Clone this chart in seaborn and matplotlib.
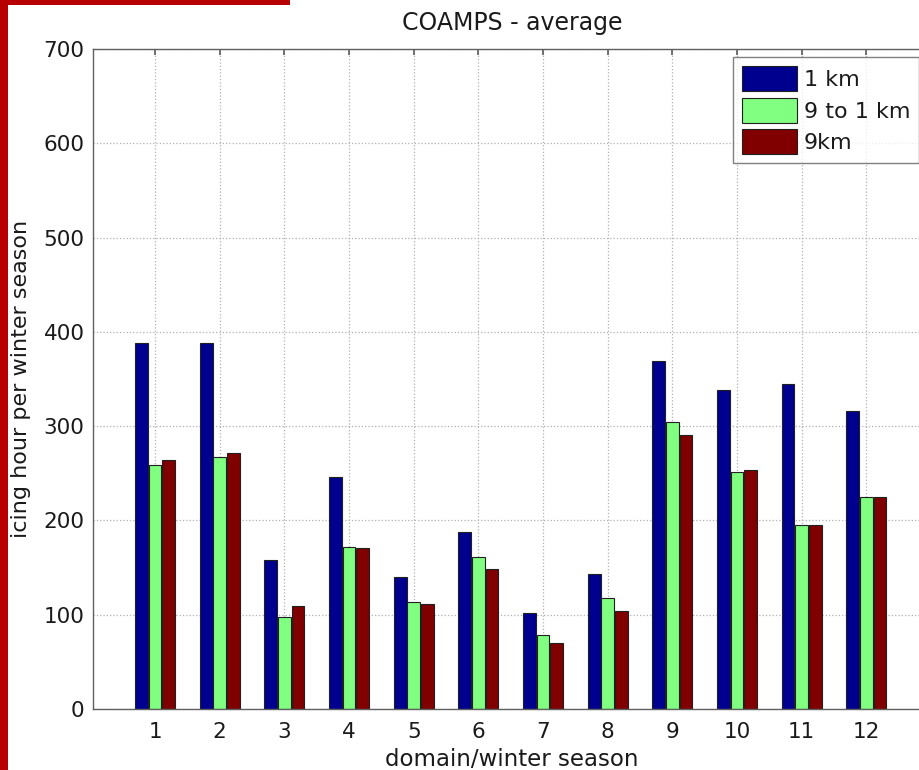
import numpy as np
import pandas as pd
import matplotlib
matplotlib.use("Agg")
import matplotlib.pyplot as plt
from matplotlib.patches import Rectangle, Patch
import seaborn as sns

domains = ["1", "2", "3", "4", "5", "6", "7", "8", "9", "10", "11", "12"]
series_names = ["1 km", "9 to 1 km", "9km"]
v_1km = [388, 388, 158, 246, 140, 188, 102, 143, 369, 338, 345, 316]
v_9to1 = [259, 267, 98, 172, 114, 161, 78, 118, 304, 251, 195, 225]
v_9km = [264, 272, 109, 171, 111, 148, 70, 104, 291, 253, 195, 225]
colors = ["#00008F", "#80FF80", "#800000"]
yticks = [0, 100, 200, 300, 400, 500, 600, 700]

df = pd.DataFrame({
    "domain": domains * 3,
    "hours": v_1km + v_9to1 + v_9km,
    "res": [series_names[0]] * 12 + [series_names[1]] * 12 + [series_names[2]] * 12,
})

sns.set_theme(style="white")
plt.rcParams['font.family'] = ['DejaVu Sans']

fig = plt.figure(figsize=(9.2, 7.7), dpi=100)
fig.patch.set_facecolor("white")
x0, x1 = 93, 931
ax = fig.add_axes([x0/920, 1-709/770, (x1-x0)/920, (709-49)/770])

sns.barplot(data=df, x="domain", y="hours", hue="res", order=domains,
            hue_order=series_names, palette=colors, width=0.63, gap=0.06,
            edgecolor="#202020", linewidth=0.8, ax=ax, legend=False,
            errorbar=None, saturation=1)

ax.set_xlim(-0.96, 12.0)
ax.set_ylim(0, 700)
ax.set_yticks(yticks)
ax.set_yticklabels([str(t) for t in yticks])
ax.grid(True, linestyle=":", color="#b0b0b0", linewidth=0.9)
ax.set_axisbelow(True)
for s in ax.spines.values():
    s.set_color("#606060")
    s.set_linewidth(1.0)
ax.tick_params(axis="both", which="both", direction="in", length=4,
               color="#606060", labelsize=15.5, labelcolor="#1a1a1a",
               top=True, right=True)
ax.tick_params(axis="x", pad=9)
ax.tick_params(axis="y", pad=6)
ax.set_xlabel("domain/winter season", fontsize=16.5, color="#1a1a1a", labelpad=5)
ax.set_ylabel("icing hour per winter season", fontsize=16, color="#1a1a1a", labelpad=9)
ax.set_title("COAMPS - average", fontsize=17, color="#1a1a1a", pad=14)

handles = [Patch(facecolor=c, edgecolor="#202020", linewidth=0.8) for c in colors]
leg = ax.legend(handles, series_names, loc="upper left",
                bbox_to_anchor=((733-x0)/(x1-x0), 1-(57-49)/(709-49)),
                fontsize=16, frameon=True, fancybox=False, edgecolor="#606060",
                handlelength=2.5, handleheight=1.36, handletextpad=0.3,
                labelspacing=0.3, borderpad=0.4, borderaxespad=0)
leg.get_frame().set_linewidth(1.0)
for t in leg.get_texts():
    t.set_color("#1a1a1a")

fig.patches.append(Rectangle((0, 0), 8/920, 1, transform=fig.transFigure,
                             facecolor="#B80000", edgecolor="none", zorder=10))
fig.patches.append(Rectangle((0, 1-5/770), 290/920, 5/770, transform=fig.transFigure,
                             facecolor="#B80000", edgecolor="none", zorder=10))

fig.savefig("out.png", dpi=100)
